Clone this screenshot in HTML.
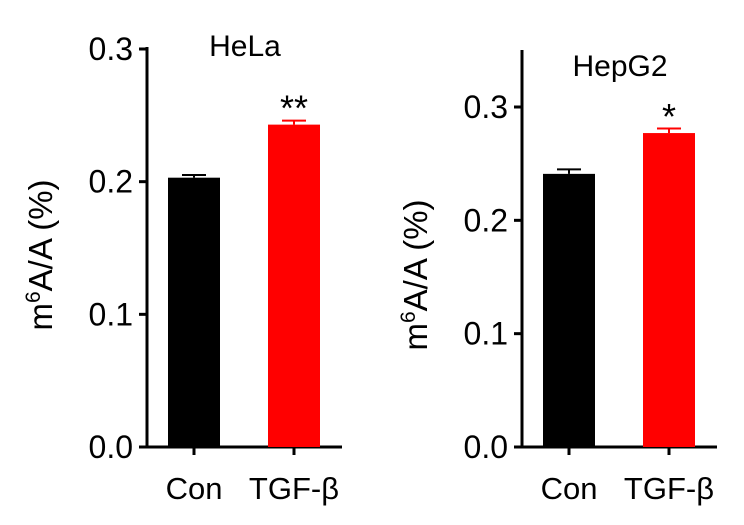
<!DOCTYPE html>
<html><head><meta charset="utf-8"><style>
body{margin:0;background:#fff;width:744px;height:520px;overflow:hidden}
svg text{font-family:"Liberation Sans","Noto Sans CJK SC",sans-serif;fill:#000}
</style></head><body>
<svg id="c" width="744" height="520"></svg>
<script>
const categories=["Con","TGF-β"];
const helaValues=[0.203,0.243];
const helaErr=[0.002,0.003];
const hepValues=[0.241,0.277];
const hepErr=[0.004,0.004];
const helaTicks=[0,0.1,0.2,0.3];
const hepTicks=[0,0.1,0.2,0.3];
const sig=["","**"];
const sig2=["","*"];
const svg=document.getElementById('c');
const NS="http://www.w3.org/2000/svg";
function el(t,a,p){const e=document.createElementNS(NS,t);for(const k in a)e.setAttribute(k,a[k]);(p||svg).appendChild(e);return e;}
function panel(o){
  const g=el('g',{});
  
  
  const y=v=>o.y0-(v/o.vmax)*(o.y0-o.ytop);
  const ax=el('line',{x1:o.ax,y1:o.axTop,x2:o.ax,y2:o.y0,stroke:'#000','stroke-width':3},g);
  
  const xa=el('line',{x1:o.ax-8,y1:o.y0,x2:o.ax+195,y2:o.y0,stroke:'#000','stroke-width':3},g);
  
  o.ticks.forEach(t=>{
    el('line',{x1:o.ax-8,y1:y(t),x2:o.ax,y2:y(t),stroke:'#000','stroke-width':3},g);
    const tx=el('text',{x:o.ax-14,y:y(t)+11,'text-anchor':'end','font-size':32},g);
    tx.textContent=t.toFixed(1);
    
  });
  o.values.forEach((v,i)=>{
    const cx=o.ax+47+i*100, col=i?'#ff0000':'#000';
    const b=el('rect',{x:cx-26,y:y(v),width:52,height:o.y0-y(v),fill:col},g);
    
    el('line',{x1:cx,y1:y(v),x2:cx,y2:y(v+o.err[i]),stroke:col,'stroke-width':2},g);
    el('line',{x1:cx-12,y1:y(v+o.err[i]),x2:cx+12,y2:y(v+o.err[i]),stroke:col,'stroke-width':2},g);
    el('line',{x1:cx,y1:o.y0,x2:cx,y2:o.y0+8,stroke:'#000','stroke-width':3},g);
    const l=el('text',{x:cx,y:499,'text-anchor':'middle','font-size':31},g);
    l.textContent=categories[i];
    if(o.sig[i]){const s=el('text',{x:cx,y:y(v)-4,'text-anchor':'middle','font-size':36},g);
      s.textContent=o.sig[i];}
  });
  const t=el('text',{x:o.ax+98,y:o.titleY,'text-anchor':'middle','font-size':30},g);
  t.textContent=o.title;
  const yl=el('text',{x:0,y:0,'text-anchor':'middle','font-size':33,transform:`translate(${o.ax-95},${o.ylY}) rotate(-90)`},g);
  yl.innerHTML='m<tspan dy="-12" font-size="21">6</tspan><tspan dy="12">A/A (%)</tspan>';
  
}
panel({name:'hela-panel',ax:147,y0:447,ytop:49,vmax:0.3,axTop:47,values:helaValues,err:helaErr,ticks:helaTicks,sig:sig,title:'HeLa',titleY:56,ylY:255});
panel({name:'hepg2-panel',ax:522,y0:447,ytop:107,vmax:0.3,axTop:50,values:hepValues,err:hepErr,ticks:hepTicks,sig:sig2,title:'HepG2',titleY:76,ylY:275});
</script>
</body></html>
